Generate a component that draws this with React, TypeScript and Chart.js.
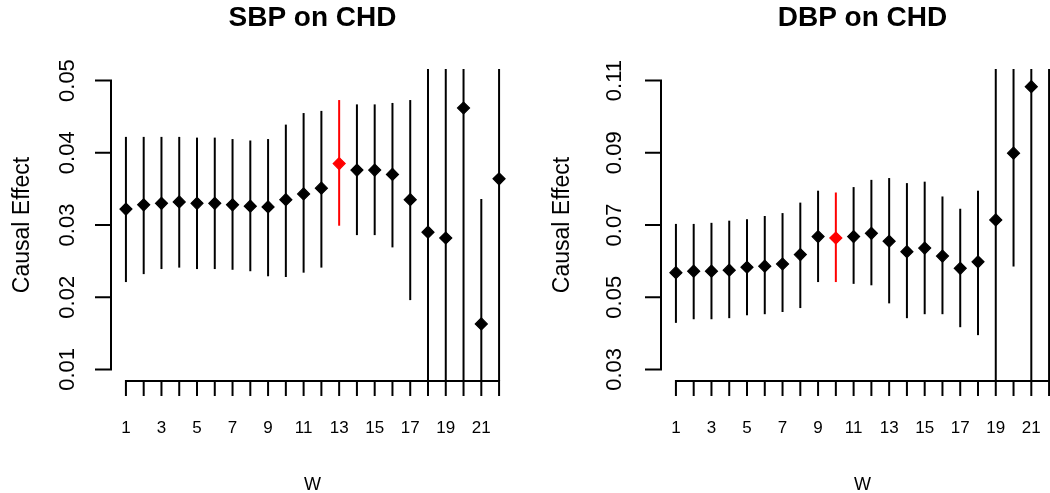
import React, { useEffect, useRef } from "react";
import { Chart, registerables } from "chart.js";

Chart.register(...registerables);

// ---------- data ----------
const W_VALUES = [1, 2, 3, 4, 5, 6, 7, 8, 9, 10, 11, 12, 13, 14, 15, 16, 17, 18, 19, 20, 21, 22];
const X_TICK_LABELS = [1, 3, 5, 7, 9, 11, 13, 15, 17, 19, 21];

const SBP_EST = [0.0322, 0.0328, 0.0330, 0.0332, 0.0330, 0.0330, 0.0328, 0.0326, 0.0325, 0.0335, 0.0343, 0.0351, 0.0385, 0.0376, 0.0376, 0.0370, 0.0335, 0.0290, 0.0282, 0.0462, 0.0163, 0.0364];
const SBP_LO = [0.0221, 0.0232, 0.0239, 0.0241, 0.0239, 0.0239, 0.0238, 0.0236, 0.0229, 0.0228, 0.0234, 0.0241, 0.0299, 0.0286, 0.0286, 0.0269, 0.0196, 0.0000, -0.0010, -0.0020, 0.0000, 0.0030];
const SBP_HI = [0.0422, 0.0422, 0.0422, 0.0422, 0.0421, 0.0421, 0.0419, 0.0417, 0.0419, 0.0439, 0.0455, 0.0458, 0.0473, 0.0467, 0.0467, 0.0469, 0.0473, 0.0580, 0.0600, 0.0900, 0.0336, 0.0570];
const SBP_Y_TICKS = [0.01, 0.02, 0.03, 0.04, 0.05];
const SBP_HIGHLIGHT = 13;

const DBP_EST = [0.0568, 0.0572, 0.0572, 0.0575, 0.0583, 0.0586, 0.0592, 0.0618, 0.0668, 0.0664, 0.0668, 0.0677, 0.0655, 0.0626, 0.0636, 0.0614, 0.0580, 0.0598, 0.0714, 0.0899, 0.1083, 0.1250];
const DBP_LO = [0.0429, 0.0439, 0.0439, 0.0442, 0.0450, 0.0453, 0.0459, 0.0470, 0.0542, 0.0542, 0.0537, 0.0533, 0.0483, 0.0442, 0.0453, 0.0453, 0.0417, 0.0395, 0.0200, 0.0585, 0.0200, 0.0200];
const DBP_HI = [0.0703, 0.0703, 0.0706, 0.0712, 0.0716, 0.0725, 0.0733, 0.0762, 0.0795, 0.0790, 0.0805, 0.0825, 0.0830, 0.0816, 0.0820, 0.0779, 0.0745, 0.0795, 0.1250, 0.1250, 0.1250, 0.1400];
const DBP_Y_TICKS = [0.03, 0.05, 0.07, 0.09, 0.11];
const DBP_HIGHLIGHT = 10;

const FONT = "'Liberation Sans', Arial, Helvetica, sans-serif";
const RED = "#ff0000";

type PanelCfg = {
  title: string;
  est: number[];
  lo: number[];
  hi: number[];
  yTicks: number[];
  highlight: number;
  canvasLeft: number;
  canvasWidth: number;
  padLeft: number;
  padRight: number;
  yLabelOffset: number;
  yTitleOffset: number;
};

function extendRange(a: number, b: number) {
  const d = (b - a) * 0.04;
  return [a - d, b + d];
}

function makePlugin(cfg: PanelCfg) {
  return {
    id: "rStyle",
    beforeDatasetsDraw(chart: any) {
      const { ctx, chartArea, scales } = chart;
      const x = scales.x;
      const y = scales.y;
      ctx.save();
      ctx.beginPath();
      ctx.rect(chartArea.left, chartArea.top, chartArea.right - chartArea.left, chartArea.bottom - chartArea.top);
      ctx.clip();
      ctx.lineWidth = 2;
      ctx.lineCap = "butt";
      for (let i = 0; i < W_VALUES.length; i++) {
        const px = x.getPixelForValue(W_VALUES[i]);
        const y1 = y.getPixelForValue(cfg.lo[i]);
        const y2 = y.getPixelForValue(cfg.hi[i]);
        ctx.strokeStyle = W_VALUES[i] === cfg.highlight ? RED : "#000";
        ctx.beginPath();
        ctx.moveTo(px, y1);
        ctx.lineTo(px, y2);
        ctx.stroke();
      }
      ctx.restore();
    },
    afterDraw(chart: any) {
      const { ctx, chartArea, scales } = chart;
      const x = scales.x;
      const y = scales.y;
      ctx.save();
      ctx.strokeStyle = "#000";
      ctx.fillStyle = "#000";
      ctx.lineWidth = 2;
      ctx.lineCap = "square";

      // y axis
      const ax = chartArea.left;
      const yTop = y.getPixelForValue(cfg.yTicks[cfg.yTicks.length - 1]);
      const yBot = y.getPixelForValue(cfg.yTicks[0]);
      ctx.beginPath();
      ctx.moveTo(ax, yTop);
      ctx.lineTo(ax, yBot);
      for (const t of cfg.yTicks) {
        const py = y.getPixelForValue(t);
        ctx.moveTo(ax, py);
        ctx.lineTo(ax - 15, py);
      }
      ctx.stroke();

      // x axis
      const ay = chartArea.bottom;
      const xL = x.getPixelForValue(W_VALUES[0]);
      const xR = x.getPixelForValue(W_VALUES[W_VALUES.length - 1]);
      ctx.beginPath();
      ctx.moveTo(xL, ay);
      ctx.lineTo(xR, ay);
      for (const t of W_VALUES) {
        const px = x.getPixelForValue(t);
        ctx.moveTo(px, ay);
        ctx.lineTo(px, ay + 14);
      }
      ctx.stroke();

      // y tick labels (rotated)
      ctx.font = `22px ${FONT}`;
      ctx.textAlign = "center";
      ctx.textBaseline = "middle";
      for (const t of cfg.yTicks) {
        const py = y.getPixelForValue(t);
        ctx.save();
        ctx.translate(ax - cfg.yLabelOffset, py);
        ctx.rotate(-Math.PI / 2);
        ctx.fillText(t.toFixed(2), 0, 0);
        ctx.restore();
      }

      // x tick labels
      ctx.font = `17px ${FONT}`;
      for (const t of X_TICK_LABELS) {
        const px = x.getPixelForValue(t);
        ctx.fillText(String(t), px, 428);
      }

      // axis titles
      const cx = (chartArea.left + chartArea.right) / 2;
      ctx.font = `18px ${FONT}`;
      ctx.fillText("W", cx, 485);

      ctx.font = `23px ${FONT}`;
      ctx.save();
      ctx.translate(ax - cfg.yTitleOffset, (chartArea.top + chartArea.bottom) / 2);
      ctx.rotate(-Math.PI / 2);
      ctx.fillText("Causal Effect", 0, 0);
      ctx.restore();

      // main title
      ctx.font = `bold 28px ${FONT}`;
      ctx.fillText(cfg.title, cx, 18);

      ctx.restore();
    },
  };
}

function Panel({ cfg }: { cfg: PanelCfg }) {
  const ref = useRef<HTMLCanvasElement | null>(null);
  useEffect(() => {
    if (!ref.current) return;
    const [ymin, ymax] = extendRange(cfg.yTicks[0], cfg.yTicks[cfg.yTicks.length - 1]);
    const [xmin, xmax] = extendRange(W_VALUES[0], W_VALUES[W_VALUES.length - 1]);
    const colors = W_VALUES.map((w) => (w === cfg.highlight ? RED : "#000"));
    const chart = new Chart(ref.current, {
      type: "scatter",
      data: {
        datasets: [
          {
            data: W_VALUES.map((w, i) => ({ x: w, y: cfg.est[i] })),
            pointStyle: "rectRot",
            pointRadius: 6,
            pointBackgroundColor: colors,
            pointBorderColor: colors,
            pointBorderWidth: 1.2,
          },
        ],
      },
      options: {
        responsive: false,
        animation: false,
        events: [],
        layout: {
          padding: { left: cfg.padLeft, right: cfg.padRight, top: 69, bottom: 112 },
        },
        scales: {
          x: { type: "linear", min: xmin, max: xmax, display: false },
          y: { type: "linear", min: ymin, max: ymax, display: false },
        },
        plugins: {
          legend: { display: false },
          tooltip: { enabled: false },
        },
      },
      plugins: [makePlugin(cfg)],
    });
    return () => chart.destroy();
  }, [cfg]);
  return (
    <canvas
      ref={ref}
      width={cfg.canvasWidth}
      height={493}
      style={{ position: "absolute", left: cfg.canvasLeft, top: 0, width: cfg.canvasWidth, height: 493 }}
    />
  );
}

const SBP_CFG: PanelCfg = {
  title: "SBP on CHD",
  est: SBP_EST,
  lo: SBP_LO,
  hi: SBP_HI,
  yTicks: SBP_Y_TICKS,
  highlight: SBP_HIGHLIGHT,
  canvasLeft: 0,
  canvasWidth: 525,
  padLeft: 111,
  padRight: 11,
  yLabelOffset: 43,
  yTitleOffset: 88,
};

const DBP_CFG: PanelCfg = {
  title: "DBP on CHD",
  est: DBP_EST,
  lo: DBP_LO,
  hi: DBP_HI,
  yTicks: DBP_Y_TICKS,
  highlight: DBP_HIGHLIGHT,
  canvasLeft: 525,
  canvasWidth: 560,
  padLeft: 136,
  padRight: 21,
  yLabelOffset: 46,
  yTitleOffset: 98,
};

export default function App() {
  return (
    <div
      style={{
        position: "fixed",
        left: 0,
        top: 0,
        width: 1050,
        height: 493,
        overflow: "hidden",
        background: "#fff",
      }}
    >
      <Panel cfg={SBP_CFG} />
      <Panel cfg={DBP_CFG} />
    </div>
  );
}
